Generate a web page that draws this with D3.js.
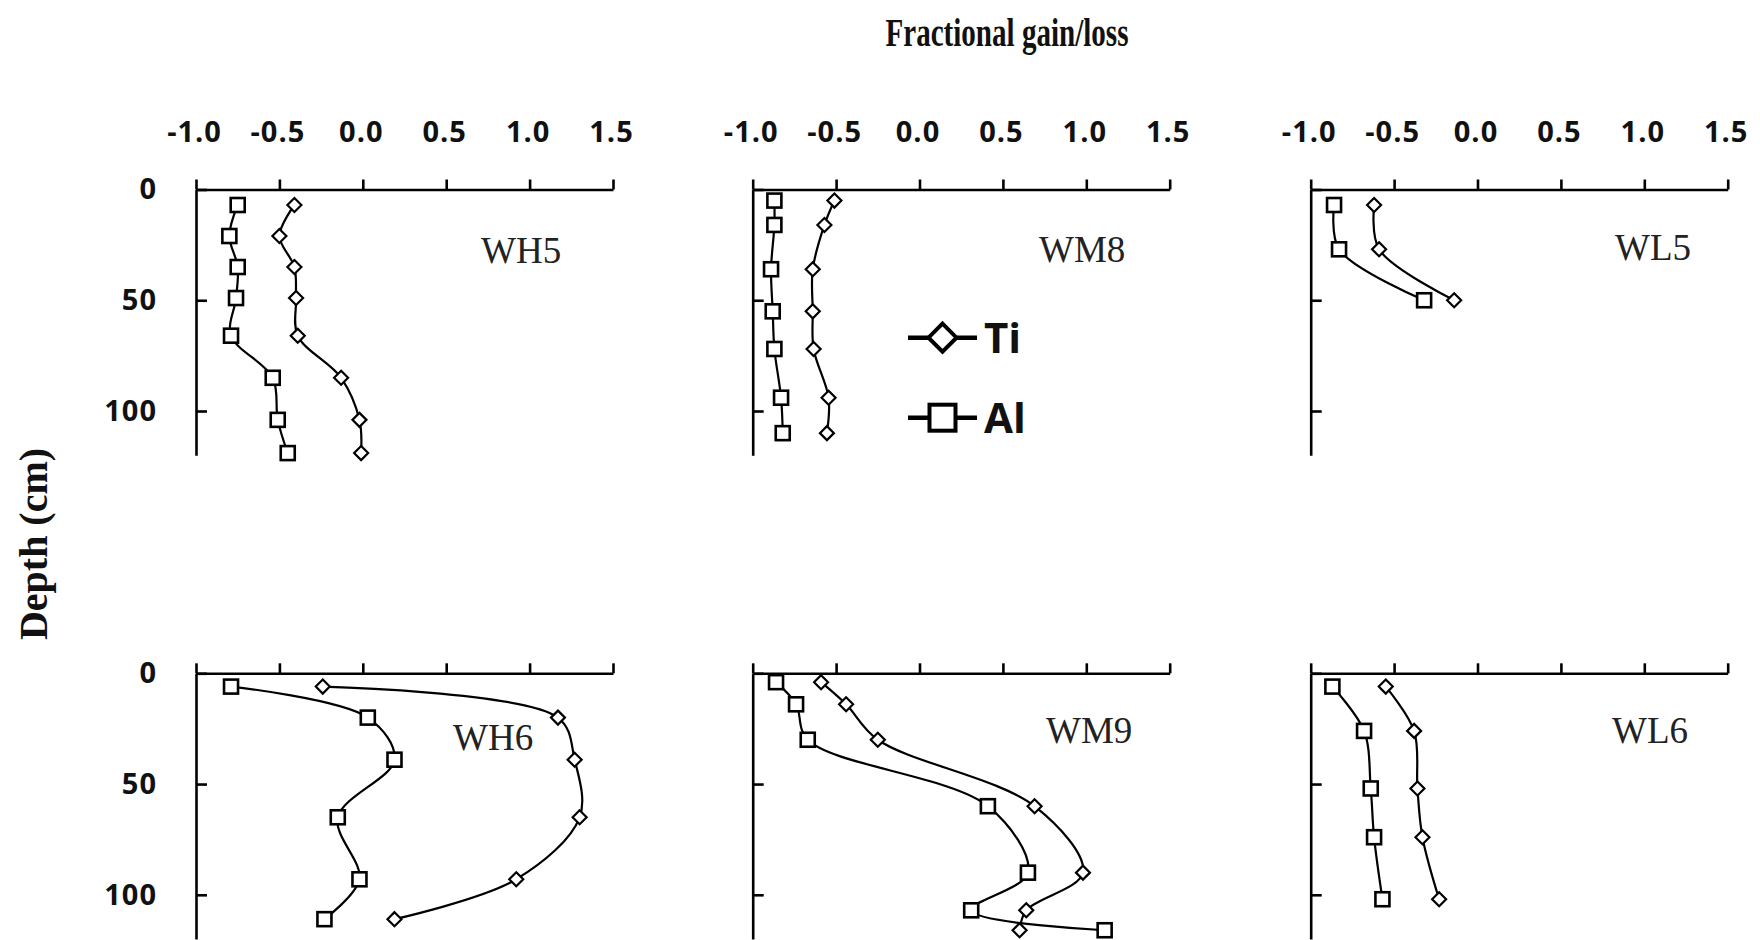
<!DOCTYPE html>
<html>
<head>
<meta charset="utf-8">
<script src="https://cdn.jsdelivr.net/npm/d3@7/dist/d3.min.js"></script>
<style>
  html, body { margin: 0; padding: 0; background: #ffffff; }
  svg { display: block; }
</style>
</head>
<body>
<svg id="chart" width="1760" height="940"></svg>
<script>
// ---------------- DATA ----------------
const xTicks = [-1.0, -0.5, 0.0, 0.5, 1.0, 1.5];
const yTicks = [0, 50, 100];
const seriesNames = ["Ti", "Al"];
const profileNames = ["WH5", "WM8", "WL5", "WH6", "WM9", "WL6"];

const depthWH5 = [7, 21, 35, 49, 66, 85, 104, 119];
const tiWH5    = [-0.41, -0.50, -0.41, -0.40, -0.39, -0.13, -0.02, -0.01];
const alWH5    = [-0.75, -0.80, -0.75, -0.76, -0.79, -0.54, -0.51, -0.45];

const depthWM8 = [5, 16, 36, 55, 72, 94, 110];
const tiWM8    = [-0.51, -0.57, -0.64, -0.64, -0.635, -0.545, -0.555];
const alWM8    = [-0.87, -0.87, -0.89, -0.88, -0.87, -0.83, -0.82];

const depthWL5 = [7, 27, 50];
const tiWL5    = [-0.62, -0.59, -0.14];
const alWL5    = [-0.86, -0.83, -0.32];

const depthWH6 = [6, 20, 39, 65, 93, 111];
const tiWH6    = [-0.24, 1.17, 1.27, 1.30, 0.92, 0.19];
const alWH6    = [-0.79, 0.03, 0.19, -0.15, -0.02, -0.23];

const depthWM9 = [4, 14, 30, 60, 90, 107, 116];
const tiWM9    = [-0.59, -0.44, -0.25, 0.69, 0.98, 0.64, 0.60];
const alWM9    = [-0.86, -0.74, -0.67, 0.41, 0.65, 0.31, 1.11];

const depthWL6 = [6, 26, 52, 74, 102];
const tiWL6    = [-0.55, -0.38, -0.36, -0.33, -0.23];
const alWL6    = [-0.87, -0.68, -0.64, -0.62, -0.57];

const profiles = [
  { name: profileNames[0], depth: depthWH5, ti: tiWH5, al: alWH5 },
  { name: profileNames[1], depth: depthWM8, ti: tiWM8, al: alWM8 },
  { name: profileNames[2], depth: depthWL5, ti: tiWL5, al: alWL5 },
  { name: profileNames[3], depth: depthWH6, ti: tiWH6, al: alWH6 },
  { name: profileNames[4], depth: depthWM9, ti: tiWM9, al: alWM9 },
  { name: profileNames[5], depth: depthWL6, ti: tiWL6, al: alWL6 }
];

// ---------------- LAYOUT ----------------
const colX = [196, 752.7, 1310.7];
const panelW = 417;
const rowY = [189.5, 673.3];
const panelH = 265.8;            // 0..120 cm
const labelPos = [[481, 263], [1039, 262], [1615, 260], [453, 750], [1046, 743], [1612, 743]];

const svg = d3.select("#chart");
svg.append("rect").attr("width", 1760).attr("height", 940).attr("fill", "#fff");

const tickFont = "'Open Sans', 'Liberation Sans', sans-serif";
const serif = "'Liberation Serif', 'Times New Roman', serif";

const line = d3.line().curve(d3.curveCatmullRom.alpha(0.5));

profiles.forEach((p, i) => {
  const col = i % 3, row = Math.floor(i / 3);
  const x = d3.scaleLinear().domain([-1, 1.5]).range([0, panelW]);
  const y = d3.scaleLinear().domain([0, 120]).range([0, panelH]);
  const g = svg.append("g").attr("transform", `translate(${colX[col]},${rowY[row]})`);

  // x axis (top)
  const xAxis = d3.axisTop(x).tickValues(xTicks).tickSize(10).tickSizeOuter(0)
    .tickPadding(38)
    .tickFormat(row === 0 ? (d => d.toFixed(1)) : () => "");
  const gx = g.append("g").call(xAxis);
  gx.selectAll("path, line").attr("stroke", "#000").attr("stroke-width", 2.6);
  gx.selectAll("text").attr("font-family", tickFont).attr("font-weight", "700")
    .attr("font-size", 29).attr("fill", "#111").attr("dx", -2)
    .attr("letter-spacing", 1);

  // y axis (left, ticks pointing inward)
  const yAxis = d3.axisLeft(y).tickValues(yTicks).tickSizeInner(-11).tickSizeOuter(0)
    .tickPadding(39)
    .tickFormat(col === 0 ? (d => String(d)) : () => "");
  const gy = g.append("g").call(yAxis);
  gy.selectAll("path, line").attr("stroke", "#000").attr("stroke-width", 2.6);
  gy.selectAll("text").attr("font-family", tickFont).attr("font-weight", "700")
    .attr("font-size", 29).attr("fill", "#111").attr("letter-spacing", 1);

  const tiPts = p.depth.map((d, k) => [x(p.ti[k]), y(d)]);
  const alPts = p.depth.map((d, k) => [x(p.al[k]), y(d)]);

  [tiPts, alPts].forEach(pts => {
    g.append("path").attr("d", line(pts)).attr("fill", "none")
      .attr("stroke", "#000").attr("stroke-width", 2.2);
  });

  g.selectAll(".sq").data(alPts).join("rect")
    .attr("x", d => d[0] - 7).attr("y", d => d[1] - 7)
    .attr("width", 14).attr("height", 14)
    .attr("fill", "#fff").attr("stroke", "#000").attr("stroke-width", 2.6);

  g.selectAll(".dm").data(tiPts).join("path")
    .attr("d", d => `M${d[0]},${d[1] - 7}L${d[0] + 7},${d[1]}L${d[0]},${d[1] + 7}L${d[0] - 7},${d[1]}Z`)
    .attr("fill", "#fff").attr("stroke", "#000").attr("stroke-width", 2.2);

  svg.append("text").attr("x", labelPos[i][0]).attr("y", labelPos[i][1])
    .attr("font-family", serif).attr("font-size", 37).attr("fill", "#222")
    .text(p.name);
});

// Legend
const legY = [337.7, 417.7];
seriesNames.forEach((s, k) => {
  const ly = legY[k];
  svg.append("line").attr("x1", 908).attr("x2", 977).attr("y1", ly).attr("y2", ly)
    .attr("stroke", "#000").attr("stroke-width", 4.5);
  if (k === 0) {
    svg.append("path").attr("d", `M942.5,${ly - 14}L956.5,${ly}L942.5,${ly + 14}L928.5,${ly}Z`)
      .attr("fill", "#fff").attr("stroke", "#000").attr("stroke-width", 4);
  } else {
    svg.append("rect").attr("x", 929.5).attr("y", ly - 13).attr("width", 26).attr("height", 26)
      .attr("fill", "#fff").attr("stroke", "#000").attr("stroke-width", 4);
  }
  svg.append("text").attr("x", 984).attr("y", ly).attr("dy", "0.36em")
    .attr("font-family", tickFont).attr("font-weight", "700").attr("font-size", 42)
    .attr("fill", "#111").text(s);
});

// Titles
svg.append("text").attr("x", 1007).attr("y", 46).attr("text-anchor", "middle")
  .attr("font-family", serif).attr("font-weight", "700").attr("font-size", 41)
  .attr("textLength", 243).attr("lengthAdjust", "spacingAndGlyphs")
  .attr("fill", "#111").text("Fractional gain/loss");

svg.append("text").attr("transform", "translate(47,544) rotate(-90)")
  .attr("text-anchor", "middle")
  .attr("font-family", serif).attr("font-weight", "700").attr("font-size", 40)
  .attr("fill", "#111").text("Depth (cm)");
</script>
</body>
</html>
